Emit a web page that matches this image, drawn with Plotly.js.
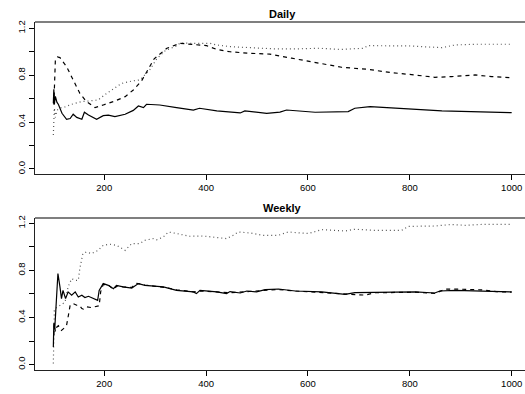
<!DOCTYPE html>
<html><head><meta charset="utf-8">
<script src="https://cdn.plot.ly/plotly-3.0.1.min.js"></script>
<style>html,body{margin:0;padding:0;background:#fff;overflow:hidden;width:525px;height:394px}#chart{width:600px;height:394px}</style>
</head><body><div id="chart"></div>
<script>
// Daily panel
const dailySolidX = [100,101,102,104,107,110,117,126,133,139,146,156,161,169,185,198,208,221,241,257,267,277,283,296,309,342,375,387,421,467,476,519,545,558,614,679,692,722,771,863,1000];
const dailySolidY = [0.56,0.68,0.55,0.62,0.57,0.55,0.475,0.424,0.43,0.467,0.44,0.424,0.484,0.46,0.424,0.455,0.46,0.446,0.467,0.50,0.537,0.523,0.552,0.552,0.546,0.523,0.503,0.518,0.495,0.478,0.495,0.475,0.485,0.503,0.484,0.49,0.518,0.532,0.518,0.495,0.48];
const dailyDashX = [101,102,104,108,113,126,139,152,165,182,198,221,241,257,273,286,298,303,323,349,375,401,421,447,486,525,568,614,666,718,764,810,849,882,928,961,1000];
const dailyDashY = [0.55,0.70,0.93,0.955,0.95,0.873,0.76,0.646,0.575,0.523,0.546,0.58,0.617,0.674,0.75,0.85,0.94,0.958,1.03,1.072,1.064,1.052,1.02,1.0,0.987,0.98,0.945,0.907,0.868,0.85,0.822,0.802,0.782,0.788,0.802,0.788,0.779];
const dailyDotX = [100,101,102,104,107,113,123,136,156,169,188,205,221,234,254,270,283,290,303,320,342,349,375,408,421,447,486,538,575,620,666,709,718,797,863,889,928,1000];
const dailyDotY = [0.29,0.45,0.52,0.44,0.50,0.52,0.53,0.552,0.575,0.58,0.589,0.646,0.689,0.73,0.75,0.76,0.817,0.85,0.94,1.01,1.05,1.075,1.072,1.072,1.058,1.044,1.035,1.024,1.024,1.03,1.02,1.03,1.052,1.05,1.035,1.058,1.064,1.064];

// Weekly panel
const weeklySolidX = [100,101,102,103,105,109,113,116,119,124,129,136,143,149,156,162,169,178,187,190,198,208,218,224,237,254,267,280,300,316,342,375,381,388,421,440,447,467,480,499,516,542,575,627,673,692,732,810,849,859,889,954,1000];
const weeklySolidY = [0.15,0.35,0.30,0.32,0.45,0.773,0.66,0.56,0.63,0.56,0.617,0.589,0.617,0.574,0.589,0.569,0.58,0.56,0.546,0.63,0.688,0.673,0.645,0.673,0.66,0.65,0.688,0.673,0.665,0.66,0.63,0.617,0.603,0.63,0.617,0.603,0.62,0.608,0.625,0.617,0.637,0.642,0.625,0.617,0.597,0.611,0.614,0.617,0.608,0.625,0.631,0.625,0.617];
const weeklyDashX = [101,102,104,107,110,116,120,126,129,133,139,146,152,156,159,165,175,185,190,193,198,208,218,226,237,254,262,270,280,300,320,342,375,388,421,447,480,516,542,575,627,673,712,732,810,849,870,900,940,970,1000];
const weeklyDashY = [0.25,0.35,0.28,0.32,0.33,0.29,0.305,0.334,0.404,0.504,0.518,0.504,0.50,0.476,0.472,0.49,0.484,0.495,0.50,0.62,0.68,0.675,0.64,0.67,0.66,0.655,0.69,0.685,0.675,0.665,0.655,0.635,0.618,0.625,0.615,0.61,0.62,0.63,0.638,0.625,0.61,0.60,0.59,0.61,0.615,0.605,0.64,0.64,0.635,0.62,0.615];
const weeklyDotX = [100,101,102,105,113,123,129,136,143,149,152,158,165,175,188,198,211,224,241,254,270,280,296,303,316,326,342,368,394,421,440,453,463,486,512,542,561,601,627,673,692,732,784,797,849,882,909,941,1000];
const weeklyDotY = [0.01,0.29,0.46,0.48,0.504,0.53,0.66,0.73,0.716,0.716,0.815,0.943,0.956,0.943,0.97,1.013,1.022,1.013,0.97,1.028,1.028,1.056,1.07,1.06,1.084,1.126,1.113,1.09,1.092,1.078,1.07,1.098,1.126,1.118,1.098,1.098,1.126,1.113,1.146,1.135,1.149,1.14,1.14,1.174,1.177,1.19,1.183,1.19,1.19];

const titles = ["Daily", "Weekly"];
const xTicks = [200,400,600,800,1000];
const yTickVals = [0,0.2,0.4,0.6,0.8,1.0,1.2];
const yTickText = ["0.0","","0.4","","0.8","","1.2"];

const solid = {color:'#000', width:1.2, dash:'solid'};
const dashed = {color:'#000', width:1.2, dash:'4px,4px'};
const dotted = {color:'#555', width:1.2, dash:'1px,3px'};

function tr(x,y,line,xa,ya){return {x:x,y:y,type:'scatter',mode:'lines',line:line,xaxis:xa,yaxis:ya,hoverinfo:'skip',showlegend:false};}

const data = [
  tr(dailyDotX,dailyDotY,dotted,'x','y'),
  tr(dailyDashX,dailyDashY,dashed,'x','y'),
  tr(dailySolidX,dailySolidY,solid,'x','y'),
  tr(weeklyDotX,weeklyDotY,dotted,'x2','y2'),
  tr(weeklyDashX,weeklyDashY,dashed,'x2','y2'),
  tr(weeklySolidX,weeklySolidY,solid,'x2','y2')
];

const font = {family:'"Liberation Sans", Arial, sans-serif', size:9.5, color:'#000'};
function xax(anchor){return {anchor:anchor, range:[64,1036], tickvals:xTicks, ticks:'outside', ticklen:5, tickcolor:'#000', showline:true, linecolor:'#222', linewidth:1, mirror:false, showgrid:false, zeroline:false, tickfont:font};}
function yax(anchor,dom,range){return {anchor:anchor, domain:dom, range:range, tickvals:yTickVals, ticktext:yTickText, tickangle:-90, ticks:'outside', ticklen:5, tickcolor:'#000', showline:true, linecolor:'#222', linewidth:1, mirror:false, showgrid:false, zeroline:false, tickfont:font};}

const layout = {
  width:600, height:394,
  margin:{l:35, r:70, t:22, b:24},
  paper_bgcolor:'#fff', plot_bgcolor:'#fff',
  font:font,
  xaxis: xax('y'),
  yaxis: yax('x',[0.5632,1],[-0.043,1.254]),
  xaxis2: xax('y2'),
  yaxis2: yax('x2',[0,0.4368],[-0.046,1.245]),
  shapes:[
    {type:'line', xref:'x domain', yref:'y domain', x0:0, x1:1, y0:1, y1:1, line:{color:'#555', width:1.5}},
    {type:'line', xref:'x2 domain', yref:'y2 domain', x0:0, x1:1, y0:1, y1:1, line:{color:'#555', width:1.5}}
  ],
  annotations:[
    {text:'<b>'+titles[0]+'</b>', xref:'x domain', yref:'paper', x:0.501, y:1.023, xanchor:'center', yanchor:'middle', showarrow:false, font:{family:font.family, size:11, color:'#000'}},
    {text:'<b>'+titles[1]+'</b>', xref:'x2 domain', yref:'paper', x:0.501, y:0.4655, xanchor:'center', yanchor:'middle', showarrow:false, font:{family:font.family, size:11, color:'#000'}}
  ]
};
Plotly.newPlot('chart', data, layout, {staticPlot:true, displayModeBar:false});
</script>
</body></html>
